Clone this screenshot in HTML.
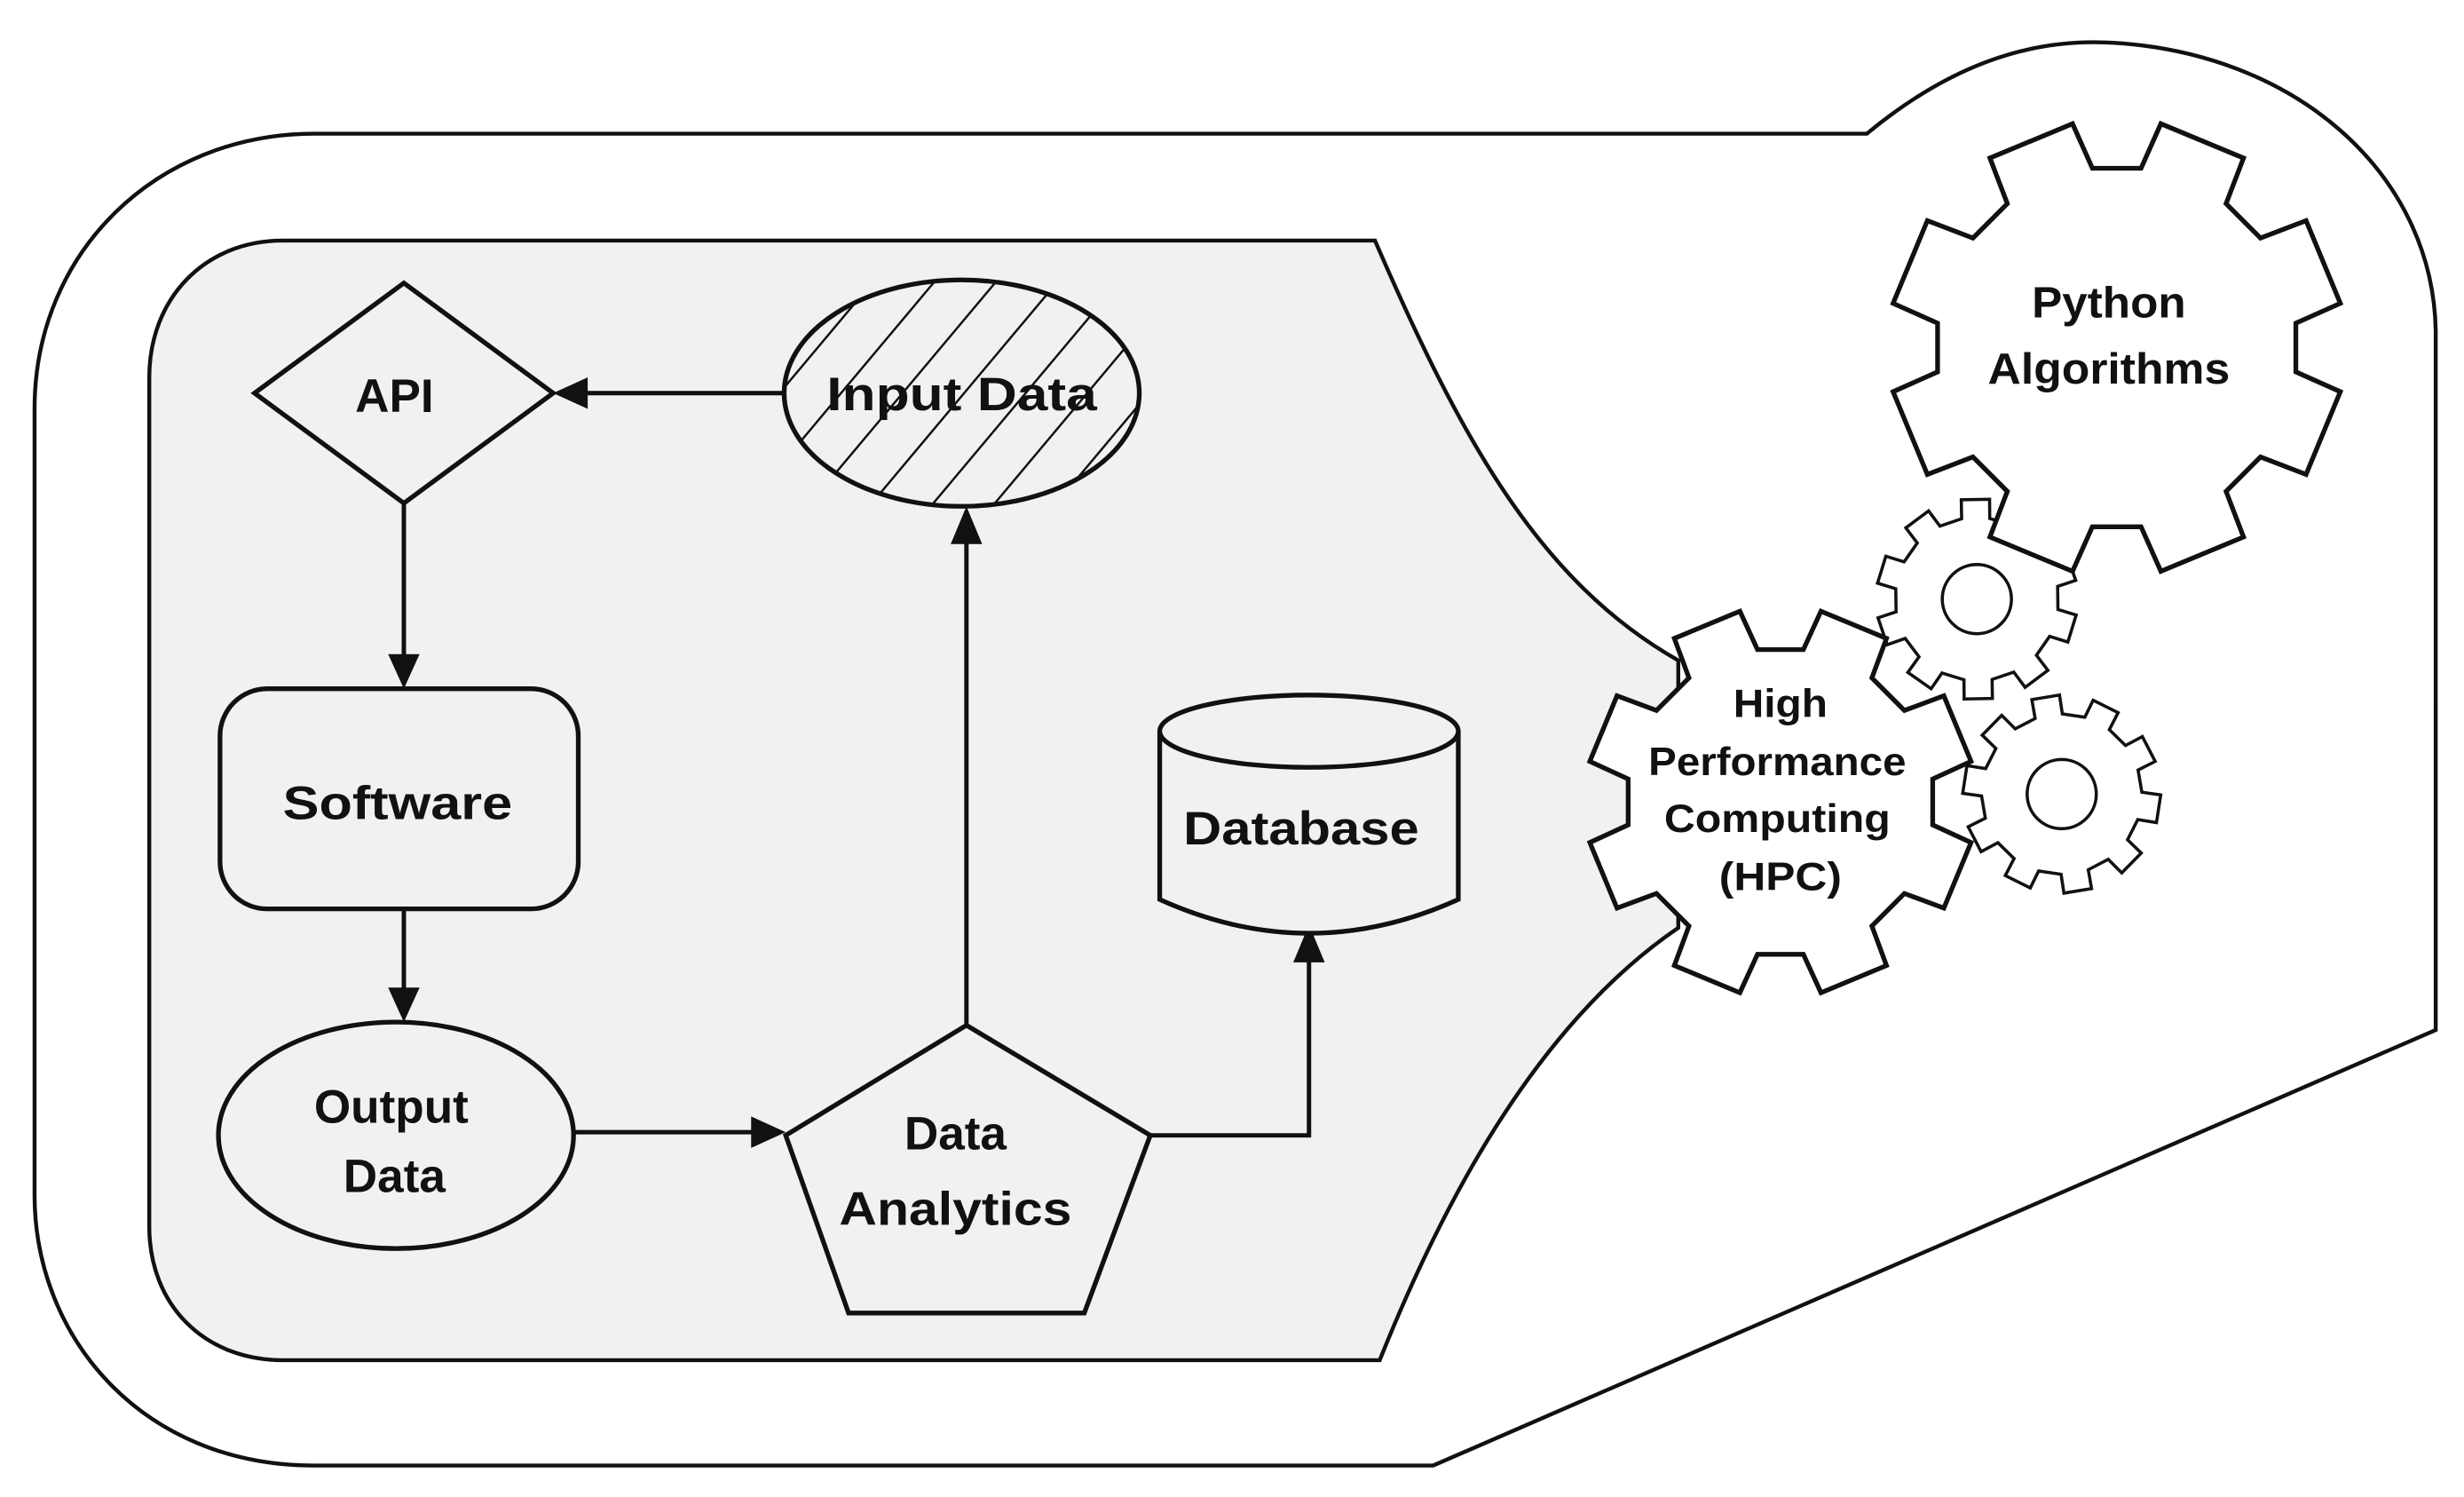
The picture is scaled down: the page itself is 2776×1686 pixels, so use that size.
<!DOCTYPE html>
<html><head><meta charset="utf-8">
<style>
html,body{margin:0;padding:0;background:#fff;}
svg{display:block;}
text{font-family:"Liberation Sans","DejaVu Sans",sans-serif;fill:#111;}
</style></head>
<body>
<svg id="s" width="2776" height="1686" viewBox="0 0 1568 952" preserveAspectRatio="none" xmlns="http://www.w3.org/2000/svg">
<defs>
<pattern id="hatch" patternUnits="userSpaceOnUse" width="30" height="30" patternTransform="rotate(40)">
<line x1="0" y1="0" x2="0" y2="30" stroke="#111" stroke-width="2.8"/>
</pattern>
</defs>
<path d="M200,85 L1188,85 C1240,42 1290,25 1340,27 C1460,32 1548,110 1550,210 L1550,655 L912,932 L200,932 C90,932 22,850 22,760 L22,260 C22,160 100,85 200,85 Z" fill="#fff" stroke="#111" stroke-width="2.5"/>
<path d="M180,153 L875,153 C930,280 980,370 1068,420 L1068,590 C980,650 920,760 878,865 L180,865 C130,865 95,830 95,780 L95,240 C95,190 130,153 180,153 Z" fill="#f1f1f1" stroke="#111" stroke-width="2.5"/>

<g stroke="#111" stroke-width="2.8" fill="none">
<line x1="500" y1="250" x2="372" y2="250"/>
<line x1="257" y1="320" x2="257" y2="418"/>
<line x1="257" y1="578" x2="257" y2="630"/>
<line x1="365" y1="720" x2="480" y2="720"/>
<polyline points="615,652 615,344"/>
<polyline points="732,722 833,722 833,610"/>
</g>
<g fill="#111">
<polygon points="352,250 374,240 374,260"/>
<polygon points="257,438 247,416 267,416"/>
<polygon points="257,650 247,628 267,628"/>
<polygon points="500,720 478,710 478,730"/>
<polygon points="615,322 605,346 625,346"/>
<polygon points="833,588 823,612 843,612"/>
</g>

<polygon points="257,180 352,250 257,320 162,250" fill="#f1f1f1" stroke="#111" stroke-width="3"/>
<text x="251" y="262" font-size="30" font-weight="bold" text-anchor="middle">API</text>

<ellipse cx="612" cy="250" rx="113" ry="72" fill="#f1f1f1"/>
<ellipse cx="612" cy="250" rx="113" ry="72" fill="url(#hatch)" stroke="#111" stroke-width="3"/>
<text x="612" y="261" font-size="30" font-weight="bold" text-anchor="middle" textLength="172" lengthAdjust="spacingAndGlyphs">Input Data</text>

<rect x="140" y="438" width="228" height="140" rx="30" fill="#f1f1f1" stroke="#111" stroke-width="3"/>
<text x="253" y="521" font-size="30" font-weight="bold" text-anchor="middle" textLength="146" lengthAdjust="spacingAndGlyphs">Software</text>

<ellipse cx="252" cy="722" rx="113" ry="72" fill="#f1f1f1" stroke="#111" stroke-width="3"/>
<text x="249" y="714" font-size="30" font-weight="bold" text-anchor="middle">Output</text>
<text x="251" y="758" font-size="30" font-weight="bold" text-anchor="middle">Data</text>

<polygon points="615,652 732,722 690,835 540,835 500,722" fill="#f1f1f1" stroke="#111" stroke-width="3"/>
<text x="608" y="731" font-size="30" font-weight="bold" text-anchor="middle">Data</text>
<text x="608" y="779" font-size="30" font-weight="bold" text-anchor="middle" textLength="148" lengthAdjust="spacingAndGlyphs">Analytics</text>

<path d="M738,465 L738,572 Q833,615 928,572 L928,465" fill="#f1f1f1" stroke="#111" stroke-width="3"/>
<ellipse cx="833" cy="465" rx="95" ry="23" fill="#f1f1f1" stroke="#111" stroke-width="3"/>
<text x="828" y="537" font-size="30" font-weight="bold" text-anchor="middle" textLength="150" lengthAdjust="spacingAndGlyphs">Database</text>

<g id="gears"></g>
</svg>
<script>
function gear(cx,cy,R,r,n,phase,wo,wi){
  var p=2*Math.PI/n, pts=[];
  for(var k=0;k<n;k++){
    var a=phase+k*p;
    pts.push([cx+R*Math.cos(a-wo/2),cy+R*Math.sin(a-wo/2)]);
    pts.push([cx+r*Math.cos(a-wi/2),cy+r*Math.sin(a-wi/2)]);
    pts.push([cx+r*Math.cos(a+wi/2),cy+r*Math.sin(a+wi/2)]);
    pts.push([cx+R*Math.cos(a+wo/2),cy+R*Math.sin(a+wo/2)]);
  }
  return pts.map(function(q){return q[0].toFixed(1)+','+q[1].toFixed(1)}).join(' ');
}
var g=document.getElementById('gears'),NS='http://www.w3.org/2000/svg';
function poly(pts,sw){var e=document.createElementNS(NS,'polygon');e.setAttribute('points',pts);e.setAttribute('fill','#fff');e.setAttribute('stroke','#111');e.setAttribute('stroke-width',sw);g.appendChild(e);}
function circ(cx,cy,r){var e=document.createElementNS(NS,'circle');e.setAttribute('cx',cx);e.setAttribute('cy',cy);e.setAttribute('r',r);e.setAttribute('fill','none');e.setAttribute('stroke','#111');e.setAttribute('stroke-width',2);g.appendChild(e);}
function txt(x,y,s,fs,tl){var e=document.createElementNS(NS,'text');e.setAttribute('x',x);e.setAttribute('y',y);e.setAttribute('font-size',fs);e.setAttribute('text-anchor','middle');e.setAttribute('font-weight','bold');if(tl){e.setAttribute('textLength',tl);e.setAttribute('lengthAdjust','spacingAndGlyphs');}e.textContent=s;g.appendChild(e);}
var ps=2*Math.PI/10;
poly(gear(1312,505,63,51,10,-Math.PI/2+0.15,ps*0.55,ps*0.45),2);
circ(1312,505,22);
poly(gear(1258,381,64,52,10,-Math.PI/2+0.3,ps*0.55,ps*0.45),2);
circ(1258,381,22);
poly(gear(1347,221,145,115,8,-Math.PI/2,0.39,0.27),3);
txt(1342,202,'Python',28,98);
txt(1342,244,'Algorithms',28,154);
poly(gear(1133,510,124,98,8,-Math.PI/2,0.42,0.30),3);
txt(1133,456,'High',25,60);
txt(1131,493,'Performance',25,164);
txt(1131,529,'Computing',25,144);
txt(1133,566,'(HPC)',25,78);
</script>
</body></html>
